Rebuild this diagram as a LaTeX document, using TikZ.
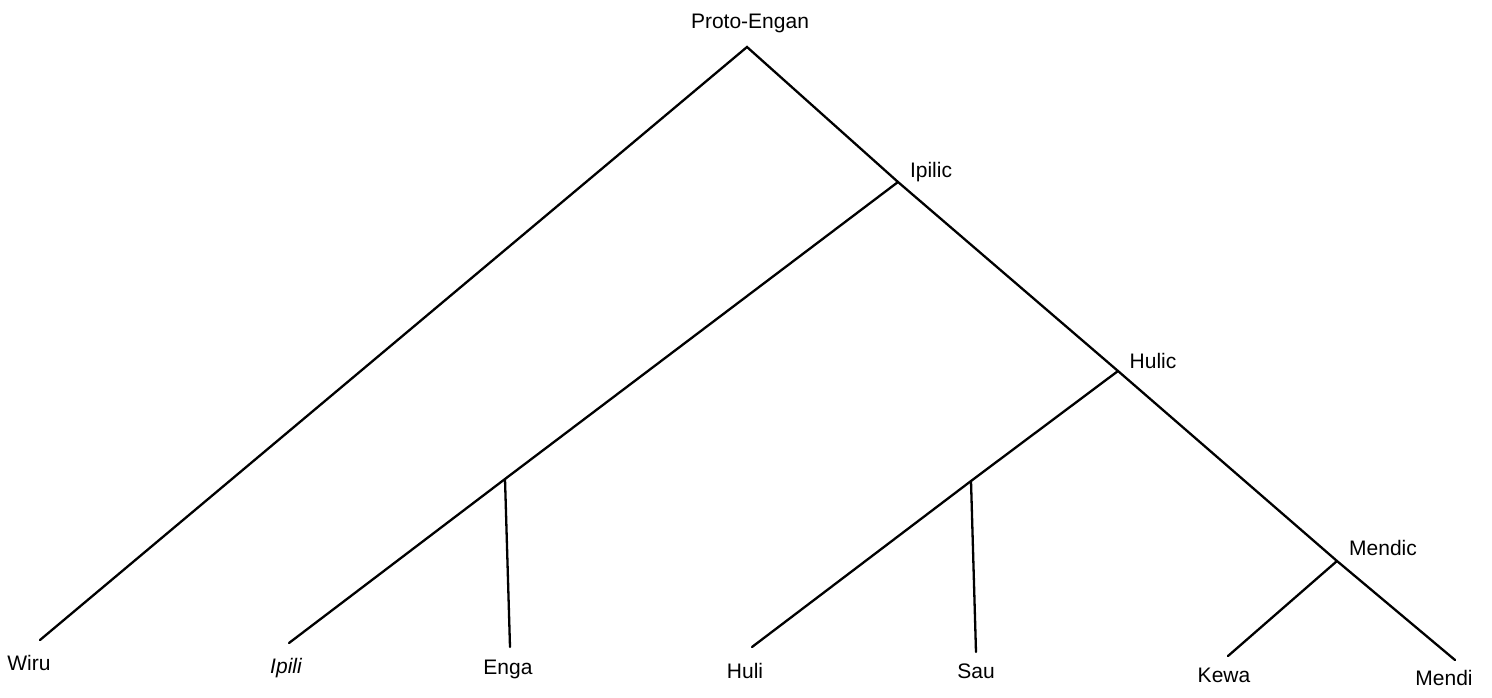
\documentclass[tikz,border=0pt]{standalone}
\usepackage{fontspec}
\setmainfont{Liberation Sans}
\begin{document}
\begin{tikzpicture}[x=1pt,y=-1pt,
  branch/.style={line width=2.3pt,line cap=round,line join=miter},
  lab/.style={inner sep=0pt,anchor=base,font=\fontsize{21}{24}\selectfont}]
\useasboundingbox (0,0) rectangle (1492,697);
% junctions and ends
\coordinate (apex) at (747,47);
\coordinate (jIpilic) at (898,182);
\coordinate (jHulic) at (1118,371);
\coordinate (jMendic) at (1337,561);
\coordinate (jEnga) at (505,479);
\coordinate (jSau) at (971,481);
\coordinate (eWiru) at (40,640);
\coordinate (eIpili) at (289,643);
\coordinate (eEnga) at (510,647);
\coordinate (eHuli) at (752,647);
\coordinate (eSau) at (976,652);
\coordinate (eKewa) at (1228,656);
\coordinate (eMendi) at (1455,660);
% labels
\node[lab] (tProto) at (750,28) {Proto-Engan};
\node[lab] (tIpilic) at (931,177) {Ipilic};
\node[lab] (tHulic) at (1153,368) {Hulic};
\node[lab] (tMendic) at (1383,555) {Mendic};
\node[lab] (tWiru) at (29,670) {Wiru};
\node[lab,font=\fontsize{21}{24}\selectfont\itshape] (tIpili) at (286,673) {Ipili};
\node[lab] (tEnga) at (508,674) {Enga};
\node[lab] (tHuli) at (745,678) {Huli};
\node[lab] (tSau) at (976,678) {Sau};
\node[lab] (tKewa) at (1224,682) {Kewa};
\node[lab] (tMendi) at (1444,685) {Mendi};
% branches
\draw[branch] (eWiru) -- (apex) -- (jIpilic) -- (jHulic) -- (jMendic) -- (eMendi);
\draw[branch] (jIpilic) -- (jEnga) -- (eIpili);
\draw[branch] (jEnga) -- (eEnga);
\draw[branch] (jHulic) -- (jSau) -- (eHuli);
\draw[branch] (jSau) -- (eSau);
\draw[branch] (jMendic) -- (eKewa);
\end{tikzpicture}
\end{document}
